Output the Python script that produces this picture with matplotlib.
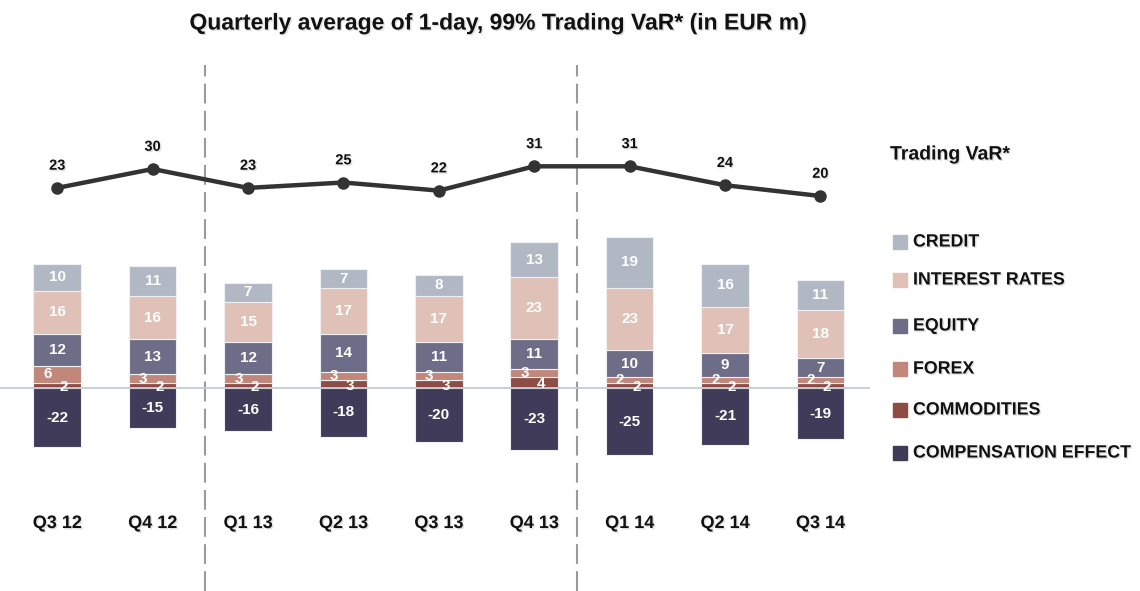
import matplotlib.pyplot as plt
import matplotlib.patheffects as pe
from matplotlib.patches import Rectangle

plt.rcParams['font.family'] = ['Liberation Sans', 'DejaVu Sans']

# data
quarters = ["Q3 12", "Q4 12", "Q1 13", "Q2 13", "Q3 13", "Q4 13", "Q1 14", "Q2 14", "Q3 14"]
credit = [10, 11, 7, 7, 8, 13, 19, 16, 11]
interest_rates = [16, 16, 15, 17, 17, 23, 23, 17, 18]
equity = [12, 13, 12, 14, 11, 11, 10, 9, 7]
forex = [6, 3, 3, 3, 3, 3, 2, 2, 2]
commodities = [2, 2, 2, 3, 3, 4, 2, 2, 2]
compensation = [-22, -15, -16, -18, -20, -23, -25, -21, -19]
trading_var = [23, 30, 23, 25, 22, 31, 31, 24, 20]

colors = {
    "CREDIT": "#b1b8c4",
    "INTEREST RATES": "#dfc1b8",
    "EQUITY": "#6e6d88",
    "FOREX": "#c1877b",
    "COMMODITIES": "#8c4d46",
    "COMPENSATION EFFECT": "#3f3b59",
}

shadow = [pe.withSimplePatchShadow(offset=(1, -1), shadow_rgbFace="#999999", alpha=0.3)]

fig = plt.figure(figsize=(11.4, 5.91), dpi=100)
ax = fig.add_axes([0, 0, 870 / 1140, 1])
ax.set_xlim(-0.6, 8.52)
ax.set_ylim(-75.2, 143.7)
ax.axis("off")

x = list(range(len(quarters)))
w = 0.5
kw = dict(width=w, edgecolor="#eef0f4", linewidth=0.8, zorder=2)

# stacked bars
bottom = [0] * len(x)
stack = [("COMMODITIES", commodities), ("FOREX", forex), ("EQUITY", equity),
         ("INTEREST RATES", interest_rates), ("CREDIT", credit)]
for name, vals in stack:
    ax.bar(x, vals, bottom=bottom, color=colors[name], **kw)
    for i, v in enumerate(vals):
        yc = bottom[i] + v / 2
        if name == "FOREX":
            xc = i - 0.1
        elif name == "COMMODITIES":
            xc, yc = i + 0.07, yc - 0.6
        else:
            xc = i
        ax.text(xc, yc, str(v), ha="center", va="center", color="white",
                fontsize=11, fontweight="bold", zorder=4)
    bottom = [b + v for b, v in zip(bottom, vals)]

ax.bar(x, compensation, color=colors["COMPENSATION EFFECT"], **kw)
for i, v in enumerate(compensation):
    ax.text(i, v / 2, str(v), ha="center", va="center", color="white",
            fontsize=11, fontweight="bold", zorder=4)

# baseline
ax.axhline(0, color="#c6cad3", lw=1.3, zorder=3)

# period separators
for xs in [1.55, 5.45]:
    ax.plot([xs, xs], [-75.2, 119.5], color="#9a9a9a", lw=1.5,
            dashes=(9.5, 3.5), zorder=1)

# category labels
for i, q in enumerate(quarters):
    ax.text(i, -50.2, q, ha="center", va="center", fontsize=13,
            fontweight="bold", color="#111111", path_effects=shadow)

# trading VaR line on shifted scale
ax2 = ax.twinx()
shift = 51.1
ax2.set_ylim(-75.2 - shift, 143.7 - shift)
ax2.axis("off")
ax2.plot(x, trading_var, color="#333333", lw=3.2, marker="o", markersize=8, zorder=5)
for i, v in enumerate(trading_var):
    ax2.annotate(str(v), (i, v), xytext=(0, 16), textcoords="offset points",
                 ha="center", va="center", fontsize=10.5, fontweight="bold",
                 color="#111111", path_effects=shadow)

# title
fig.text(497 / 1140, 1 - 23 / 591, "Quarterly average of 1-day, 99% Trading VaR* (in EUR m)",
         ha="center", va="center", fontsize=16.5, fontweight="bold", color="#111111",
         path_effects=shadow)

# legend
fig.text(890 / 1140, 1 - 155 / 591, "Trading VaR*", ha="left", va="center",
         fontsize=14, fontweight="bold", color="#111111", path_effects=shadow)
legend_y = [242, 280, 326, 369, 410, 453]
for name, yy in zip(colors.keys(), legend_y):
    fig.patches.append(Rectangle((893 / 1140, 1 - (yy + 7) / 591), 14 / 1140, 14 / 591,
                                 transform=fig.transFigure, color=colors[name]))
    fig.text(913 / 1140, 1 - yy / 591, name, ha="left", va="center",
             fontsize=12.8, fontweight="bold", color="#111111", path_effects=shadow)

fig.savefig("out.png", dpi=100)
